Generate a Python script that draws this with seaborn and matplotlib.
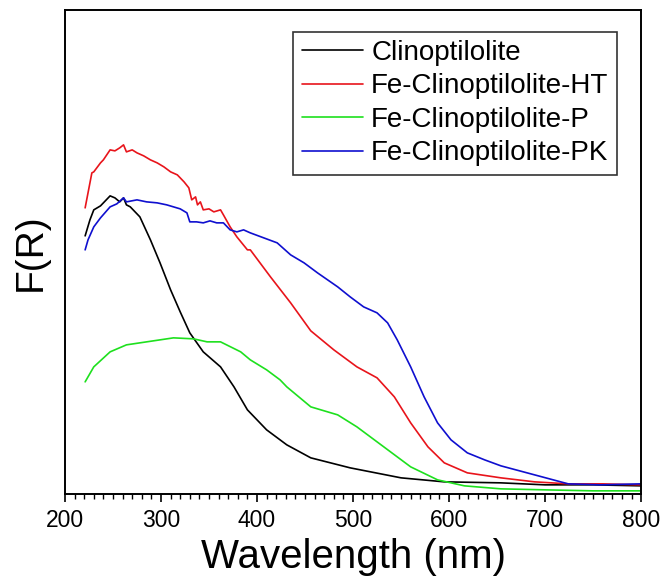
import matplotlib
matplotlib.use("Agg")
import matplotlib.pyplot as plt
import seaborn as sns
from matplotlib.ticker import MultipleLocator

# Diffuse reflectance spectra, F(R) in arbitrary units
wl_clino = [221, 226, 230, 237, 247, 252, 257, 261, 264, 268, 278, 289, 299, 310, 320, 330, 344,
            362, 376, 390, 410, 431, 456, 497, 550, 595, 654, 700, 750, 800]
f_clino = [257, 273, 283, 287, 297, 295, 291, 295, 288, 286, 276, 253, 230, 203, 181, 160, 141,
           126, 106, 83, 63, 48, 35, 25, 15, 11, 10, 8, 8, 7]

wl_ht = [221, 228, 230, 237, 240, 247, 252, 257, 261, 264, 270, 275, 282, 289, 296, 303, 310, 317,
         324, 329, 332, 336, 338, 341, 344, 350, 355, 362, 365, 372, 379, 390, 393, 414, 435, 456,
         480, 504, 525, 543, 560, 578, 595, 619, 654, 689, 724, 760, 800]
f_ht = [285, 320, 321, 330, 333, 343, 342, 345, 348, 341, 343, 340, 337, 333, 330, 326, 321, 318,
        311, 305, 293, 296, 288, 291, 283, 284, 281, 283, 278, 266, 256, 243, 243, 216, 190, 162,
        143, 126, 115, 96, 70, 46, 30, 20, 15, 11, 9, 9, 8]

wl_p = [221, 230, 247, 264, 285, 313, 334, 348, 362, 383, 393, 410, 424, 431, 456, 484, 504, 532,
        560, 588, 616, 654, 700, 750, 800]
f_p = [111, 126, 141, 148, 151, 155, 154, 151, 151, 141, 133, 123, 113, 106, 86, 78, 66, 46,
       26, 13, 7, 4, 3, 2, 2]

wl_pk = [221, 224, 230, 237, 247, 254, 261, 264, 275, 285, 296, 306, 313, 320, 327, 330, 337, 344,
         351, 358, 365, 372, 379, 386, 393, 407, 421, 435, 449, 463, 484, 497, 511, 525, 536, 546,
         560, 574, 588, 602, 619, 637, 654, 689, 724, 758, 800]
f_pk = [243, 253, 266, 275, 286, 289, 295, 291, 293, 291, 290, 288, 286, 284, 280, 271, 271, 270,
        272, 270, 270, 263, 261, 263, 260, 255, 250, 238, 230, 220, 206, 196, 186, 180, 170, 153,
        126, 96, 70, 53, 40, 33, 27, 18, 9, 8, 9]

series = [
    ("Clinoptilolite", wl_clino, f_clino, "#000000"),
    ("Fe-Clinoptilolite-HT", wl_ht, f_ht, "#e8141b"),
    ("Fe-Clinoptilolite-P", wl_p, f_p, "#1ee01e"),
    ("Fe-Clinoptilolite-PK", wl_pk, f_pk, "#0f0fcf"),
]

sns.set_theme(style="white")
plt.rcParams["font.family"] = ["Liberation Sans", "DejaVu Sans"]
plt.rcParams["text.color"] = "black"
plt.rcParams["axes.labelcolor"] = "black"
plt.rcParams["xtick.color"] = "black"
plt.rcParams["ytick.color"] = "black"

fig = plt.figure(figsize=(6.63, 5.81), dpi=100)
ax = fig.add_axes([0.098, 0.150, 0.869, 0.833])

for name, wl, fr, color in series:
    sns.lineplot(x=wl, y=fr, ax=ax, color=color, linewidth=1.2, label=name)

ax.set_xlim(200, 800)
ax.set_ylim(-1, 483)
ax.xaxis.set_major_locator(MultipleLocator(100))
ax.xaxis.set_minor_locator(MultipleLocator(10))
ax.set_yticks([])
ax.tick_params(axis="x", which="major", direction="out", length=6, width=1.2,
               labelsize=16.5, pad=5, bottom=True)
ax.tick_params(axis="x", which="minor", direction="out", length=3.5, width=1.0,
               bottom=True)
for sp in ax.spines.values():
    sp.set_color("black")
    sp.set_linewidth(1.4)

ax.set_xlabel("Wavelength (nm)", fontsize=29, labelpad=4)
ax.set_ylabel("F(R)", fontsize=28, labelpad=12)

leg = ax.legend(loc="upper right", bbox_to_anchor=(0.958, 0.955), borderaxespad=0,
                fontsize=20, frameon=True, fancybox=False, edgecolor="black",
                handlelength=2.2, handletextpad=0.3, labelspacing=0.27, borderpad=0.3)
leg.get_frame().set_linewidth(1.2)
for line in leg.get_lines():
    line.set_linewidth(1.2)

fig.savefig("out.png", dpi=100)
